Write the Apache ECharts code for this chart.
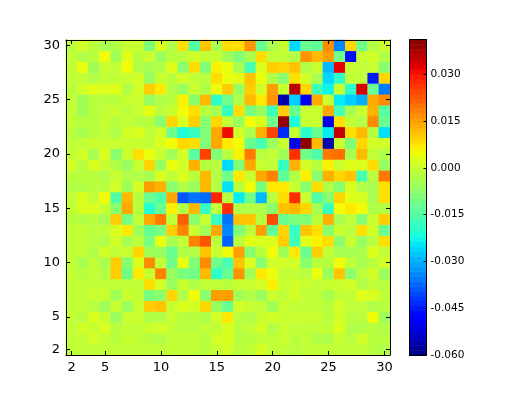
<!DOCTYPE html>
<html><head><meta charset="utf-8">
<style>html,body{margin:0;padding:0;background:#fff}#c{width:523px;height:395px}</style>
<script src="https://cdn.jsdelivr.net/npm/echarts@6/dist/echarts.min.js"></script>
</head><body><div id="c"></div>
<script>
const labelsShown=[2,5,10,15,20,25,30];
const colorTicks=[-0.06,-0.045,-0.03,-0.015,0,0.015,0.03];
const vmin=-0.06, vmax=0.041;
const row30=[-.002,.001,-.002,-.004,-.003,0,0,-.009,.002,-.003,.008,-.015,.011,-.004,.008,.008,.016,-.012,-.004,0,-.026,-.012,-.013,.017,-.034,.009,-.011,-.003,0];
const row29=[-.001,-.003,-.002,.005,-.005,.003,-.002,0,-.006,-.002,-.002,.001,-.001,0,-.005,-.009,-.004,.008,-.001,-.001,-.003,.016,.012,.015,-.011,-.046,0,.001,-.003];
const row28=[-.001,.004,-.005,0,-.001,.005,-.003,-.004,-.003,.003,-.008,.008,-.009,.006,.004,-.004,-.016,.002,.010,.009,.011,-.003,0,-.029,.032,0,-.001,0,-.008];
const row27=[-.001,-.001,-.003,-.001,-.001,0,.001,-.006,0,-.002,.001,-.001,-.002,.008,.004,.003,.011,.004,-.003,-.008,.008,.001,-.004,-.026,-.019,-.001,-.001,-.045,.009];
const row26=[-.002,.001,.003,.002,.003,-.003,.001,.010,.007,-.003,-.006,0,-.003,.005,.010,-.006,.010,.001,.015,0,.036,.009,-.017,-.023,0,-.019,.033,-.012,-.035];
const row25=[-.001,-.005,-.002,-.002,-.002,0,0,-.006,-.003,-.002,.006,-.008,.012,-.019,-.011,-.003,.012,.007,.016,-.056,-.027,-.050,.014,0,-.024,-.027,-.030,.014,.017];
const row24=[-.001,-.005,-.002,-.001,0,-.002,0,.003,-.002,0,.005,.008,-.002,-.004,-.018,.008,-.010,-.006,-.017,.010,-.012,0,0,.014,-.016,-.004,0,.013,-.014];
const row23=[-.001,-.002,-.002,0,-.002,-.001,-.002,-.002,-.008,.009,.002,.010,-.008,.009,-.001,-.006,.005,.002,-.011,.039,-.021,0,0,-.051,.008,-.001,-.003,.017,-.012];
const row22=[-.002,-.004,-.002,-.001,-.003,.001,.002,-.001,.001,-.011,-.021,-.018,-.009,.014,.031,.001,-.004,.013,.025,-.043,0,-.020,-.012,-.024,.035,.008,.012,-.002,-.025];
const row21=[-.001,-.001,0,0,0,0,0,-.001,.002,.005,.009,.008,-.009,.014,.007,.005,-.012,-.016,-.006,0,-.050,.040,.012,-.056,0,-.009,.009,.001,.001];
const row20=[-.001,.001,-.004,.002,-.008,0,.008,.004,0,-.005,.001,-.014,.025,-.009,-.002,.006,.019,-.002,-.001,-.005,.027,-.011,-.015,.019,.020,-.004,.012,-.001,-.003];
const row19=[.001,-.002,.002,0,-.003,-.006,0,.009,-.006,.004,.001,.013,-.002,-.002,-.026,-.009,.014,0,-.001,-.018,.013,.001,-.002,.006,0,.003,.002,.008,-.006];
const row18=[-.002,-.002,-.002,-.003,0,-.003,-.003,-.004,.002,-.001,.002,-.002,.012,-.003,-.011,.007,0,.014,.018,-.013,-.003,.006,-.008,.013,.009,.011,-.016,-.002,.019];
const row17=[-.003,-.003,-.002,-.002,.001,-.005,.001,.015,.013,-.008,-.003,-.006,.012,-.003,-.025,-.002,.005,-.010,.007,.007,0,-.008,.008,-.003,-.008,.002,-.003,-.004,.008];
const row16=[-.001,.002,-.001,.005,-.015,.012,-.002,-.012,-.015,.014,-.039,-.036,-.037,.028,-.002,-.024,-.011,-.029,-.002,.008,.027,0,-.015,-.008,.009,.003,.002,-.004,.008];
const row15=[-.001,.002,.002,0,-.008,.014,-.002,-.020,-.012,.006,-.003,.012,-.018,-.001,.027,-.003,-.003,-.003,-.008,.011,.012,.009,-.004,-.018,.005,.007,.005,-.003,-.003];
const row14=[-.002,-.003,-.002,-.004,.010,-.010,-.001,.014,.019,-.001,.022,-.008,0,-.018,-.036,.011,.011,-.002,.024,-.012,-.009,-.009,-.002,.013,-.004,-.001,-.008,0,.010];
const row13=[-.001,-.001,-.002,-.001,.002,.007,-.005,-.012,-.010,.010,.018,0,-.005,.014,-.034,-.009,-.002,.015,-.013,.009,-.018,.011,.008,-.008,0,-.002,.008,.001,-.012];
const row12=[-.001,-.001,-.002,-.003,.001,-.004,-.002,-.010,.004,-.004,-.001,.018,.023,-.002,-.038,-.002,.003,.002,.002,.010,-.017,.003,.006,.008,-.008,0,-.006,-.002,.008];
const row11=[-.001,-.001,-.003,.001,-.001,0,.009,-.005,-.006,-.012,-.003,-.003,.011,0,.005,.015,-.008,-.002,.005,-.005,.007,-.012,.010,-.001,-.004,-.004,-.004,.002,-.001];
const row10=[-.001,-.004,-.001,-.004,.010,-.008,.002,.017,-.001,-.011,.004,-.009,.017,-.011,-.016,.011,.002,-.008,.001,.001,.001,-.008,-.002,-.002,.005,-.001,-.004,-.002,.001];
const row9=[-.001,-.002,-.001,-.003,.010,-.011,.007,0,.018,-.006,-.010,-.011,.012,-.019,-.012,.016,-.005,.007,.004,-.001,-.001,-.002,.004,-.006,.011,-.008,-.002,.001,-.006];
const row8=[-.001,-.001,-.001,-.001,-.001,-.001,-.001,.008,.001,-.006,0,-.003,-.001,-.001,-.002,0,0,.001,.006,0,.001,0,-.001,0,0,.001,-.003,-.001,-.002];
const row7=[-.001,-.001,0,0,-.005,0,-.001,-.010,-.008,.009,-.003,.005,-.008,.015,.015,-.005,-.003,-.006,0,-.001,.001,-.001,-.001,-.004,-.001,-.001,.003,.002,-.001];
const row6=[-.001,-.001,-.002,-.005,0,-.006,0,.010,.011,0,.002,.001,.009,-.006,-.012,.001,0,-.001,-.005,0,-.001,-.001,-.001,-.002,.001,-.001,-.001,-.003,-.002];
const row5=[-.001,-.002,.002,0,-.006,0,0,-.003,-.003,0,-.002,-.002,-.003,.001,.007,-.002,-.003,0,.001,0,0,0,0,-.002,.001,-.002,-.002,.005,-.005];
const row4=[-.001,.001,0,.002,-.002,-.001,-.001,0,.001,-.001,-.002,-.002,-.001,-.001,.002,-.002,-.001,.001,-.003,0,-.001,-.001,-.001,-.001,.002,-.003,-.003,-.002,-.003];
const row3=[-.001,-.001,.001,-.001,-.002,0,-.001,-.002,-.003,-.001,-.001,-.001,-.002,.001,.002,-.002,-.002,-.001,-.001,0,-.002,-.001,-.003,-.003,0,-.002,.001,-.002,-.002];
const row2=[-.001,-.001,-.001,-.001,-.001,-.001,-.001,-.001,-.001,-.001,-.001,-.001,-.002,0,.001,-.002,-.001,.001,-.001,-.001,-.002,-.001,-.001,-.001,-.001,-.001,-.001,-.002,-.003];
const rows=[row2,row3,row4,row5,row6,row7,row8,row9,row10,row11,row12,row13,row14,row15,row16,row17,row18,row19,row20,row21,row22,row23,row24,row25,row26,row27,row28,row29,row30];
const cats=rows.map((_,i)=>String(i+2));
const cells=[];
rows.forEach((r,j)=>r.forEach((v,i)=>cells.push([i,j,v])));

// matplotlib "jet" colour map
function lerp(p,t){for(let i=1;i<p.length;i++){if(t<=p[i][0]){const a=p[i-1],b=p[i];return a[1]+(b[1]-a[1])*(t-a[0])/((b[0]-a[0])||1);}}return p[p.length-1][1];}
const R=[[0,0],[.35,0],[.66,1],[.89,1],[1,.5]],G=[[0,0],[.125,0],[.375,1],[.64,1],[.91,0],[1,0]],B=[[0,.5],[.11,1],[.34,1],[.65,0],[1,0]];
const jet=[];
for(let i=0;i<256;i++){const t=i/255;jet.push('rgb('+[R,G,B].map(p=>Math.round(lerp(p,t)*255)).join(',')+')');}
// colour bar levels
const N=64,barCats=[],barCells=[];
for(let i=0;i<N;i++){barCats.push(String(i));barCells.push([0,i,vmin+(vmax-vmin)*(i+.5)/N]);}

const show=(i)=>labelsShown.includes(i+2);
const F='"DejaVu Sans"';
const line={show:true,onZero:false,lineStyle:{color:'#000',width:1}};
const tick={show:true,inside:true,length:4,alignWithLabel:true,interval:show,lineStyle:{color:'#000',width:1}};
const lab={show:true,interval:show,color:'#000',fontFamily:F,fontSize:13,margin:6};
const chart=echarts.init(document.getElementById('c'),null,{renderer:'canvas'});
chart.setOption({
 animation:false,backgroundColor:'#fff',
 grid:[{left:66,top:40,width:324,height:315,show:false},{left:409.5,top:39.5,width:17,height:316,show:false}],
 xAxis:[
  {type:'category',gridIndex:0,data:cats,position:'bottom',axisLine:line,axisTick:tick,axisLabel:lab,splitLine:{show:false},z:5},
  {type:'category',gridIndex:0,data:cats,position:'top',axisLine:line,axisTick:tick,axisLabel:{show:false},splitLine:{show:false},z:5},
  {type:'category',gridIndex:1,data:['c'],position:'bottom',axisLine:line,axisTick:{show:false},axisLabel:{show:false},z:5},
  {type:'category',gridIndex:1,data:['c'],position:'top',axisLine:line,axisTick:{show:false},axisLabel:{show:false},z:5}
 ],
 yAxis:[
  {type:'category',gridIndex:0,data:cats,position:'left',axisLine:line,axisTick:tick,axisLabel:lab,splitLine:{show:false},z:5},
  {type:'category',gridIndex:0,data:cats,position:'right',axisLine:line,axisTick:tick,axisLabel:{show:false},splitLine:{show:false},z:5},
  {type:'category',gridIndex:1,data:barCats,position:'left',axisLine:line,axisTick:{show:false},axisLabel:{show:false},z:5},
  {type:'value',gridIndex:1,position:'right',min:vmin,max:vmax,splitLine:{show:false},axisLine:line,z:5,
   axisTick:{show:true,inside:true,length:3,customValues:colorTicks,lineStyle:{color:'#000'}},
   axisLabel:{show:true,customValues:colorTicks,color:'#000',fontFamily:F,fontSize:10.5,margin:4,formatter:v=>v.toFixed(3)}}
 ],
 visualMap:[
  {show:false,seriesIndex:0,min:vmin,max:vmax,dimension:2,inRange:{color:jet}},
  {show:false,seriesIndex:1,min:vmin,max:vmax,dimension:2,inRange:{color:jet}}
 ],
 series:[
  {type:'heatmap',xAxisIndex:0,yAxisIndex:0,data:cells,progressive:0,emphasis:{disabled:true}},
  {type:'heatmap',xAxisIndex:2,yAxisIndex:2,data:barCells,progressive:0,emphasis:{disabled:true}}
 ]
});
</script></body></html>
